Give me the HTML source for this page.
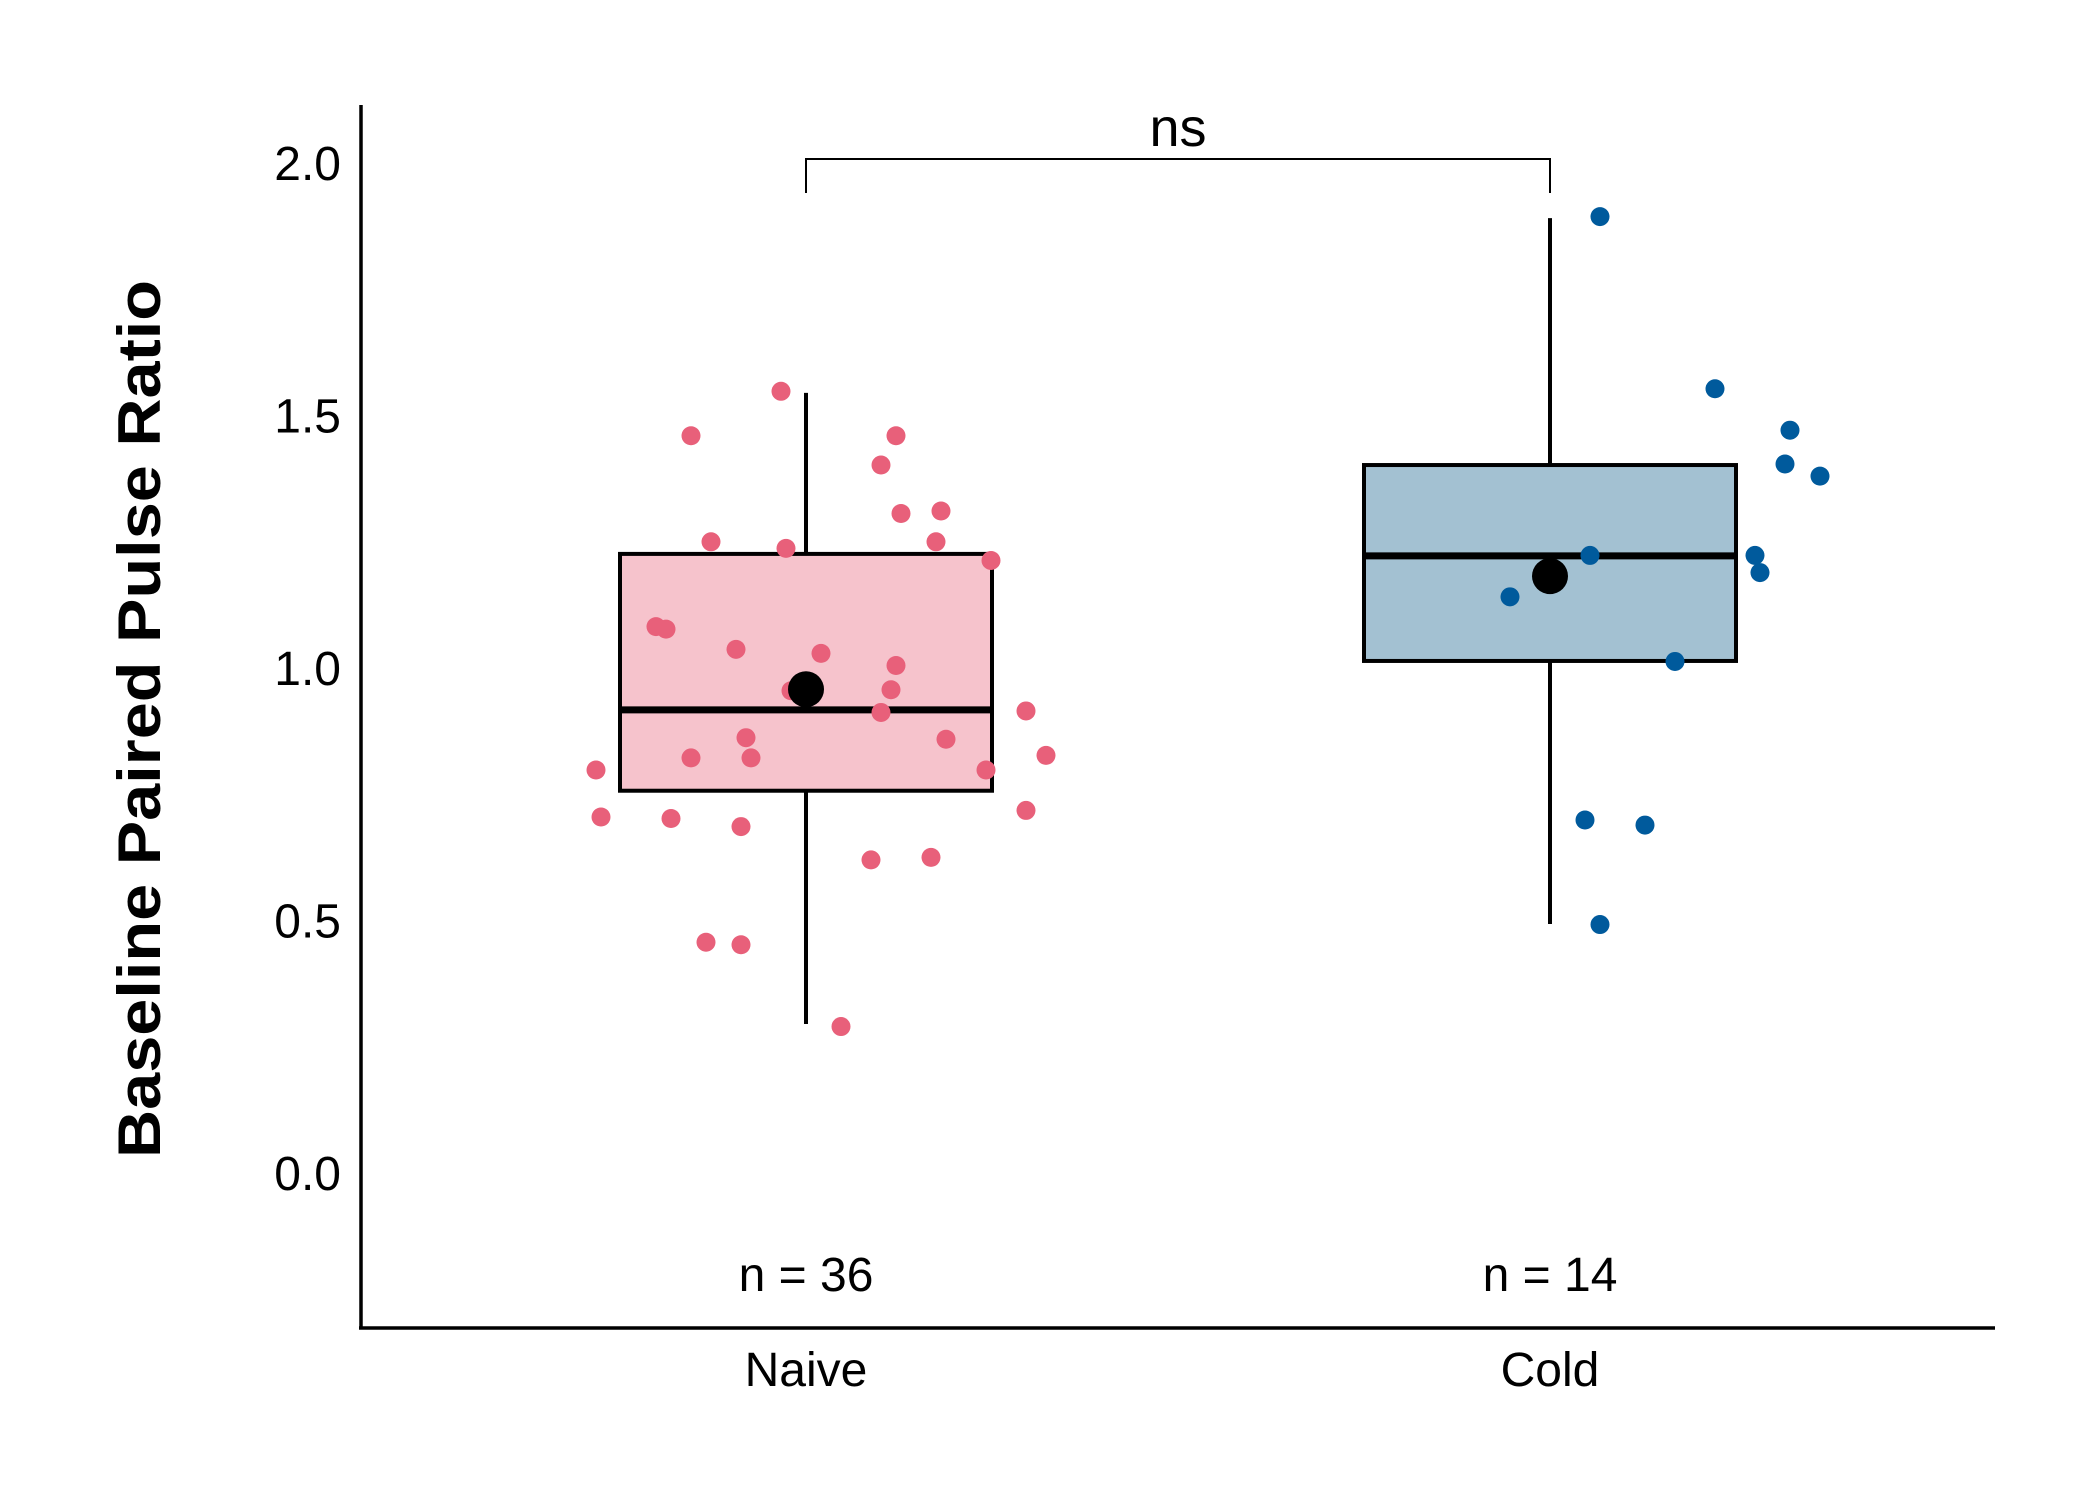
<!DOCTYPE html>
<html><head><meta charset="utf-8"><style>
html,body{margin:0;padding:0;background:#fff;}
svg{display:block;font-family:"Liberation Sans",Arial,sans-serif;}
</style></head><body>
<svg id="chart" width="2100" height="1500" viewBox="0 0 2100 1500" xmlns="http://www.w3.org/2000/svg"></svg>
<script>
const categories = ["Naive", "Cold"];
const counts = [36, 14];
const boxQ1 = [0.757, 1.014];
const boxMedian = [0.917, 1.222];
const boxQ3 = [1.226, 1.402];
const whiskerLow = [0.295, 0.493];
const whiskerHigh = [1.545, 1.891];
const means = [0.958, 1.182];
const yTicks = [0.0, 0.5, 1.0, 1.5, 2.0];
const yTickLabels = ["0.0", "0.5", "1.0", "1.5", "2.0"];
const naiveValues = [1.548,1.460,1.460,1.402,1.306,1.311,1.250,1.237,1.250,1.213,1.082,1.077,1.037,1.029,1.005,0.955,0.957,0.912,0.915,0.862,0.859,0.822,0.822,0.827,0.798,0.798,0.705,0.702,0.718,0.686,0.620,0.625,0.457,0.452,0.290,0.960];
const naiveJitter = [-0.05,-0.23,0.18,0.15,0.19,0.27,-0.19,-0.04,0.26,0.37,-0.30,-0.28,-0.14,0.03,0.18,-0.03,0.17,0.15,0.44,-0.12,0.28,-0.23,-0.11,0.48,-0.42,0.36,-0.41,-0.27,0.44,-0.13,0.13,0.25,-0.20,-0.13,0.07,0.00];
const coldValues = [1.894,1.553,1.471,1.404,1.380,1.223,1.223,1.189,1.141,1.013,0.699,0.689,0.492,1.180];
const coldJitter = [0.10,0.33,0.48,0.47,0.54,0.08,0.41,0.42,-0.08,0.25,0.07,0.19,0.10,0.00];
const sigLabel = "ns";

const svg = document.getElementById('chart');
const NS = "http://www.w3.org/2000/svg";
const plotLeft = 361, plotRight = 1995, plotBottom = 1328, axisTop = 105;
const yMin = -0.307, yMax = 2.115;
function y(v){ return plotBottom - (v - yMin) / (yMax - yMin) * (plotBottom - axisTop); }
const centers = [806, 1550];
function x(i){ return centers[i]; }
const boxHalf = 186;
const jitterScale = 500;
function mk(tag, attrs){ const e = document.createElementNS(NS, tag); for (const k in attrs) e.setAttribute(k, attrs[k]); svg.appendChild(e); return e; }

const fills = ["#F6C3CC", "#A3C1D2"];
const pointColors = ["#E8607A", "#005A9C"];
const pts = [[naiveValues, naiveJitter], [coldValues, coldJitter]];

let e;
e = mk('line', {x1:plotLeft, y1:axisTop, x2:plotLeft, y2:plotBottom, stroke:'#000', 'stroke-width':3.5});


e = mk('line', {x1:plotLeft-2, y1:plotBottom, x2:plotRight, y2:plotBottom, stroke:'#000', 'stroke-width':3.5});



yTicks.forEach((t, i) => {
  const tx = mk('text', {x:341, y:y(t)+17, 'text-anchor':'end', 'font-size':48, fill:'#000'});
  tx.textContent = yTickLabels[i];
  
  
});

e = mk('text', {x:0, y:0, 'text-anchor':'middle', 'font-size':60, 'font-weight':'bold', fill:'#000', transform:'translate(160,719) rotate(-90)', textLength:878, lengthAdjust:'spacingAndGlyphs'});
e.textContent = "Baseline Paired Pulse Ratio";



categories.forEach((c, i) => {
  const cx = x(i);
  let w = mk('line', {x1:cx, y1:y(whiskerLow[i]), x2:cx, y2:y(whiskerHigh[i]), stroke:'#000', 'stroke-width':4});
  
  
  let b = mk('rect', {x:cx-boxHalf, y:y(boxQ3[i]), width:boxHalf*2, height:y(boxQ1[i])-y(boxQ3[i]), fill:fills[i], stroke:'#000', 'stroke-width':4});
  
  
  let m = mk('line', {x1:cx-boxHalf, y1:y(boxMedian[i]), x2:cx+boxHalf, y2:y(boxMedian[i]), stroke:'#000', 'stroke-width':7});
  
  
  const [vals, jit] = pts[i];
  vals.forEach((v, k) => {
    const p = mk('circle', {cx:cx + jit[k]*jitterScale, cy:y(v), r:9.5, fill:pointColors[i]});
    
    
  });
  const mn = mk('circle', {cx:cx, cy:y(means[i]), r:18, fill:'#000'});
  
  
  const nt = mk('text', {x:cx, y:1291, 'text-anchor':'middle', 'font-size':48, fill:'#000'});
  nt.textContent = "n = " + counts[i];
  
  
  const xl = mk('text', {x:cx, y:1386, 'text-anchor':'middle', 'font-size':48, fill:'#000'});
  xl.textContent = c;
  
  
});

e = mk('path', {d:`M${x(0)},193 V159 H${x(1)} V193`, fill:'none', stroke:'#000', 'stroke-width':2});


e = mk('text', {x:(x(0)+x(1))/2, y:146, 'text-anchor':'middle', 'font-size':54, fill:'#000'});
e.textContent = sigLabel;


</script>
</body></html>
